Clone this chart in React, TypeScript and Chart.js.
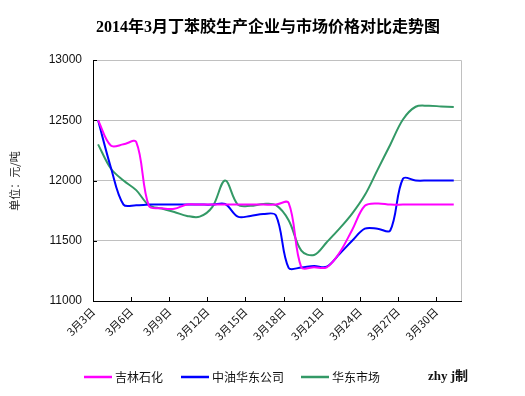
import React, { useEffect, useRef } from "react";
import { Chart, registerables } from "chart.js";

Chart.register(...registerables);

const days = [3,4,5,6,7,8,9,10,11,12,13,14,15,16,17,18,19,20,21,22,23,24,25,26,27,28,29,30,31];
const jilin = [12500,12290,12300,12320,11790,11770,11765,11800,11800,11800,11800,11800,11800,11800,11800,11815,11280,11280,11280,11400,11590,11790,11810,11800,11800,11800,11800,11800,11800];
const zhongyou = [12500,12110,11800,11795,11800,11800,11800,11800,11800,11800,11805,11700,11706,11722,11711,11275,11279,11290,11285,11390,11500,11600,11600,11585,12015,12000,12000,12000,12000];
const huadong = [12300,12100,12000,11920,11795,11767,11739,11706,11700,11781,12000,11800,11790,11805,11795,11670,11418,11382,11488,11600,11725,11879,12088,12297,12506,12612,12620,12615,12610];
const tickDays = [3,6,9,12,15,18,21,24,27,30];
const seriesNames = ["吉林石化", "中油华东公司", "华东市场"];
const seriesColors = ["#ff00ff", "#0000ff", "#339966"];
const titleText = "2014年3月丁苯胶生产企业与市场价格对比走势图";
const yTitle = "单位：元/吨";
const credit = "zhy j制";

const OFFSET = 0.4;

export default function App() {
  const ref = useRef<HTMLCanvasElement | null>(null);
  useEffect(() => {
    const canvas = ref.current!;
    const mk = (vals: number[]) => days.map((d, i) => ({ x: d, y: vals[i] }));
    const all = [jilin, zhongyou, huadong];
    const decor = {
      id: "decor",
      afterDraw(chart: any) {
        const ctx = chart.ctx;
        const a = chart.chartArea;
        const ys = chart.scales.y;
        const xs = chart.scales.x;
        ctx.save();
        ctx.strokeStyle = "#c0c0c0";
        ctx.lineWidth = 1;
        ctx.beginPath();
        ctx.moveTo(a.left, a.top + 0.5);
        ctx.lineTo(a.right + 0.5, a.top + 0.5);
        ctx.lineTo(a.right + 0.5, a.bottom);
        ctx.stroke();
        ctx.strokeStyle = "#000";
        ctx.beginPath();
        [11500, 12000, 12500, 13000].forEach((v) => {
          const py = Math.round(ys.getPixelForValue(v)) + 0.5;
          ctx.moveTo(a.left, py);
          ctx.lineTo(a.left + 4, py);
        });
        tickDays.forEach((d) => {
          const px = Math.round(xs.getPixelForValue(d - OFFSET)) + 0.5;
          ctx.moveTo(px, a.bottom);
          ctx.lineTo(px, a.bottom - 4);
        });
        ctx.stroke();
        ctx.fillStyle = "#000";
        ctx.font = "bold 16px 'Liberation Serif', 'Noto Sans CJK SC', serif";
        ctx.textAlign = "center";
        ctx.textBaseline = "middle";
        ctx.fillText(titleText, 268, 28);
        ctx.save();
        ctx.translate(15, 181);
        ctx.rotate(-Math.PI / 2);
        ctx.font = "11px 'Noto Sans CJK SC', sans-serif";
        ctx.fillStyle = "#222";
        ctx.fillText(yTitle, 0, 0);
        ctx.restore();
        const lx = [84, 181, 301];
        ctx.font = "12px 'Noto Sans CJK SC', sans-serif";
        ctx.textAlign = "left";
        seriesNames.forEach((n, i) => {
          ctx.strokeStyle = seriesColors[i];
          ctx.lineWidth = 2.5;
          ctx.beginPath();
          ctx.moveTo(lx[i], 377);
          ctx.lineTo(lx[i] + 28, 377);
          ctx.stroke();
          ctx.fillStyle = "#111";
          ctx.fillText(n, lx[i] + 31, 377);
        });
        ctx.font = "bold 13px 'Liberation Serif', 'Noto Sans CJK SC', serif";
        ctx.fillText(credit, 428, 377);
        ctx.restore();
      },
    };
    const chart = new Chart(canvas, {
      type: "line",
      data: {
        datasets: all.map((vals, i) => ({
          label: seriesNames[i],
          data: mk(vals),
          borderColor: seriesColors[i],
          backgroundColor: seriesColors[i],
          borderWidth: 2,
          pointRadius: 0,
          tension: 0.35,
          fill: false,
        })),
      },
      options: {
        animation: false,
        responsive: false,
        layout: { padding: { left: 0, right: 64, top: 60, bottom: 0 } },
        plugins: { legend: { display: false }, tooltip: { enabled: false }, title: { display: false } },
        scales: {
          x: {
            type: "linear",
            min: 3 - OFFSET,
            max: 3 - OFFSET + 28.97,
            afterBuildTicks: (s: any) => {
              s.ticks = tickDays.map((d) => ({ value: d - OFFSET }));
            },
            afterFit: (s: any) => {
              s.height = 95;
            },
            ticks: {
              autoSkip: false,
              maxRotation: 45,
              minRotation: 45,
              padding: 4,
              color: "#111",
              font: { size: 11, family: "'Noto Sans CJK SC', sans-serif" },
              callback: (v: any) => "3月" + Math.round(Number(v) + OFFSET) + "日",
            },
            grid: { display: false, drawTicks: false },
            border: { display: true, color: "#000", width: 1 },
          },
          y: {
            min: 11000,
            max: 13000,
            afterFit: (s: any) => {
              s.width = 93;
            },
            ticks: {
              stepSize: 500,
              padding: 11,
              color: "#111",
              font: { size: 12, family: "'Liberation Sans', Arial, sans-serif" },
              callback: (v: any) => String(v),
            },
            grid: {
              drawTicks: false,
              color: (c: any) => (c.tick && (c.tick.value === 11000 || c.tick.value === 13000) ? "rgba(0,0,0,0)" : "#c0c0c0"),
              lineWidth: 1,
            },
            border: { display: true, color: "#000", width: 1 },
          },
        },
      },
      plugins: [decor],
    } as any);
    return () => chart.destroy();
  }, []);
  return (
    <div style={{ position: "fixed", left: 0, top: 0, width: 525, height: 396, background: "#fff" }}>
      <canvas ref={ref} width={525} height={396} style={{ display: "block" }} />
    </div>
  );
}
